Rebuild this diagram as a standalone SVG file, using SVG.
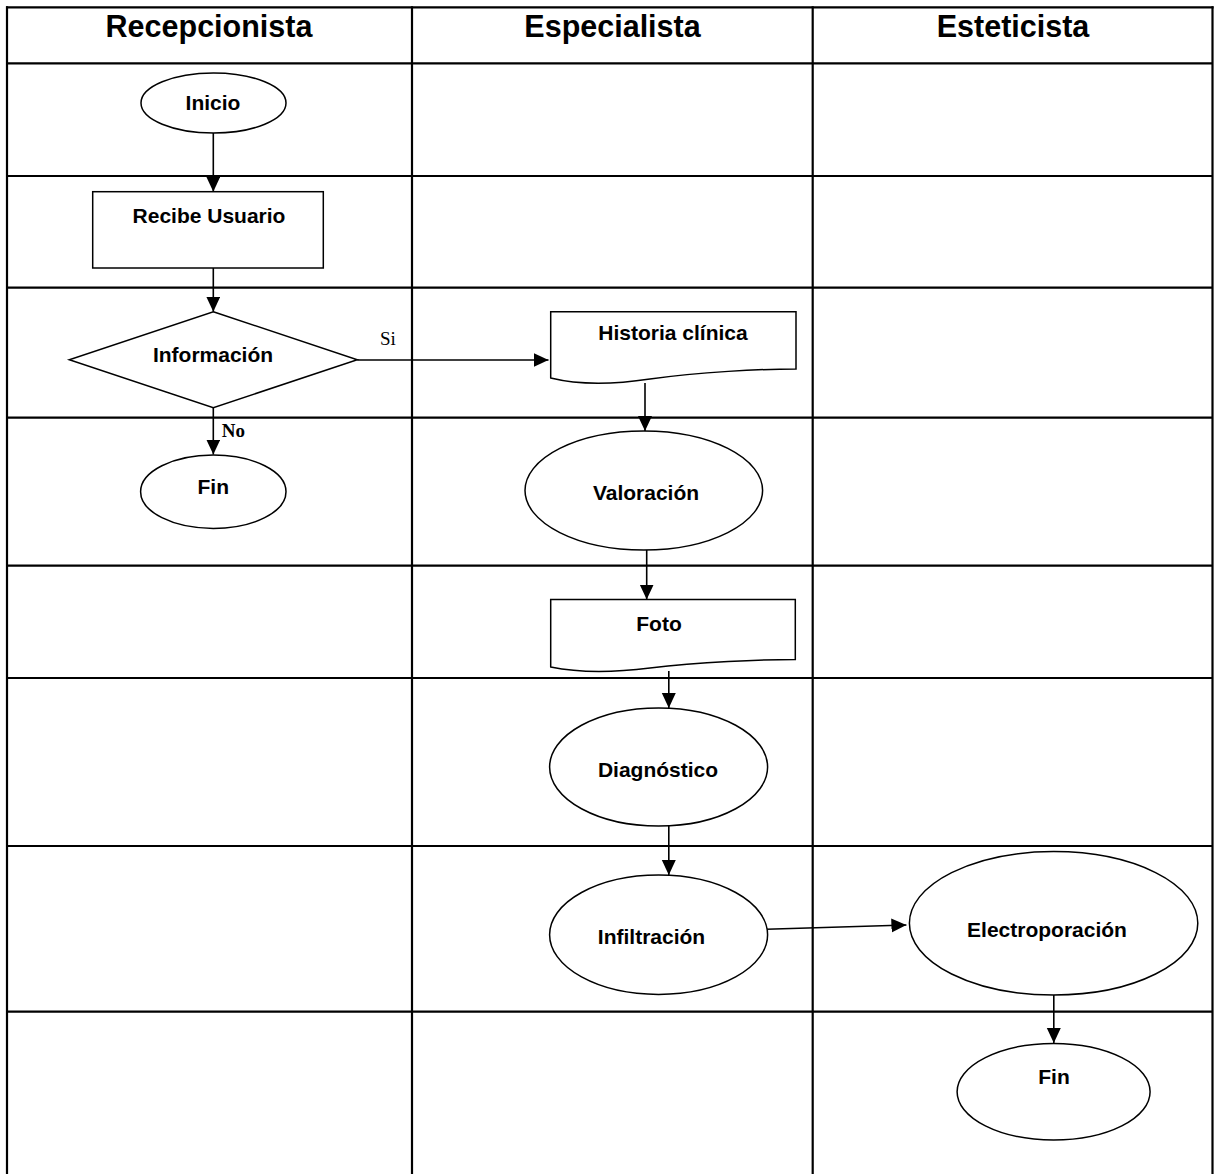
<svg xmlns="http://www.w3.org/2000/svg" width="1216" height="1174" viewBox="0 0 1216 1174">
<style>
.grid line{stroke:#000;stroke-width:2.2}
.shape{fill:#fff;stroke:#000;stroke-width:1.5}
.lbl{font-family:"Liberation Sans",Arial,sans-serif;font-weight:bold;font-size:21px;text-anchor:middle;fill:#000}
.hdr{font-family:"Liberation Sans",Arial,sans-serif;font-weight:bold;font-size:30.5px;text-anchor:middle;fill:#000}
.cap{font-family:"Liberation Serif","Times New Roman",serif;font-size:19px;fill:#000}
.conn line{stroke:#000;stroke-width:1.6;fill:none}
</style>
<defs>
<marker id="arr" markerUnits="userSpaceOnUse" markerWidth="16" markerHeight="15" refX="15" refY="7" orient="auto">
<path d="M0,0 L15,7 L0,14 Z" fill="#000"/>
</marker>
</defs>
<rect width="1216" height="1174" fill="#fff"/>
<g id="grid" class="grid">
<line x1="6" y1="7.3" x2="1213.6" y2="7.3"/>
<line x1="7" y1="6.2" x2="7" y2="1174"/>
<line x1="412" y1="6.2" x2="412" y2="1174"/>
<line x1="812.7" y1="6.2" x2="812.7" y2="1174"/>
<line x1="1212.5" y1="6.2" x2="1212.5" y2="1174"/>
<line x1="7" y1="63.3" x2="1212.5" y2="63.3"/>
<line x1="7" y1="176" x2="1212.5" y2="176"/>
<line x1="7" y1="287.7" x2="1212.5" y2="287.7"/>
<line x1="7" y1="417.7" x2="1212.5" y2="417.7"/>
<line x1="7" y1="565.7" x2="1212.5" y2="565.7"/>
<line x1="7" y1="678" x2="1212.5" y2="678"/>
<line x1="7" y1="846" x2="1212.5" y2="846"/>
<line x1="7" y1="1011.7" x2="1212.5" y2="1011.7"/>
</g>
<g id="headers">
<text class="hdr" x="209" y="36.7">Recepcionista</text>
<text class="hdr" x="612.5" y="36.7">Especialista</text>
<text class="hdr" x="1013" y="36.7">Esteticista</text>
</g>
<g id="connectors" class="conn">
<line x1="213.3" y1="133" x2="213.3" y2="191.7" marker-end="url(#arr)"/>
<line x1="213.3" y1="264" x2="213.3" y2="311.7" marker-end="url(#arr)"/>
<line x1="357.3" y1="360" x2="548.5" y2="360" marker-end="url(#arr)"/>
<line x1="213.3" y1="407.7" x2="213.3" y2="454.5" marker-end="url(#arr)"/>
<line x1="645" y1="383" x2="645" y2="431" marker-end="url(#arr)"/>
<line x1="646.7" y1="550" x2="646.7" y2="599.5" marker-end="url(#arr)"/>
<line x1="668.8" y1="671" x2="668.8" y2="708" marker-end="url(#arr)"/>
<line x1="668.8" y1="826" x2="668.8" y2="875" marker-end="url(#arr)"/>
<line x1="766.3" y1="929.3" x2="906.4" y2="925" marker-end="url(#arr)"/>
<line x1="1053.8" y1="995" x2="1053.8" y2="1043" marker-end="url(#arr)"/>
<text class="cap" x="380" y="345">Si</text>
<text class="cap" x="221.7" y="436.7" font-weight="bold">No</text>
</g>
<g id="inicio">
<ellipse class="shape" cx="213.5" cy="103" rx="72.5" ry="30"/>
<text class="lbl" x="213" y="110">Inicio</text>
</g>
<g id="recibe">
<rect class="shape" x="92.7" y="191.7" width="230.6" height="76.3"/>
<text class="lbl" x="209" y="222.7">Recibe Usuario</text>
</g>
<g id="informacion">
<polygon class="shape" points="213.3,311.7 357.3,359.7 213.3,407.7 69.3,359.7"/>
<text class="lbl" x="213" y="361.7">Información</text>
</g>
<g id="fin1">
<ellipse class="shape" cx="213.3" cy="491.7" rx="72.7" ry="36.7"/>
<text class="lbl" x="213.3" y="493.5">Fin</text>
</g>
<g id="historia">
<path class="shape" d="M550.7,311.7 H796 V369 C760,369 700,372 650,379 C610,385 575,384 550.7,378 Z"/>
<text class="lbl" x="673" y="340">Historia clínica</text>
</g>
<g id="valoracion">
<ellipse class="shape" cx="643.8" cy="490.5" rx="118.8" ry="59.5"/>
<text class="lbl" x="646" y="500">Valoración</text>
</g>
<g id="foto">
<path class="shape" d="M550.7,599.5 H795.3 V659.5 C760,659.5 700,662 650,668 C610,673 575,672 550.7,667 Z"/>
<text class="lbl" x="659" y="631">Foto</text>
</g>
<g id="diagnostico">
<ellipse class="shape" cx="658.6" cy="767" rx="109" ry="59"/>
<text class="lbl" x="658" y="777">Diagnóstico</text>
</g>
<g id="infiltracion">
<ellipse class="shape" cx="658.6" cy="934.7" rx="109" ry="59.7"/>
<text class="lbl" x="651.5" y="943.5">Infiltración</text>
</g>
<g id="electroporacion">
<ellipse class="shape" cx="1053.6" cy="923.3" rx="144.2" ry="71.7"/>
<text class="lbl" x="1047" y="937">Electroporación</text>
</g>
<g id="fin2">
<ellipse class="shape" cx="1053.6" cy="1091.7" rx="96.5" ry="48.3"/>
<text class="lbl" x="1054" y="1084">Fin</text>
</g>
</svg>
